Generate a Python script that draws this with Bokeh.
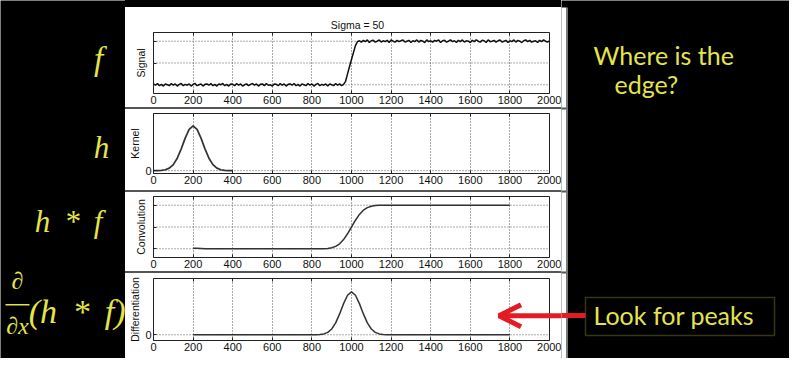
from bokeh.plotting import figure
from bokeh.layouts import row, column
from bokeh.models import (Range1d, FixedTicker, CustomJSTickFormatter, Arrow, OpenHead,
                          BoxAnnotation, Div, Label, LinearAxis, Span)
from bokeh.embed import file_html
from bokeh.resources import INLINE

# ---------------- data ----------------
x_ticks = [0, 200, 400, 600, 800, 1000, 1200, 1400, 1600, 1800, 2000]

signal_x = list(range(0, 2001, 10))
signal_y = [
    0.02, -0.01, 0.03, -0.02, 0.01, -0.03, 0.02, 0.00, -0.02, 0.03,
    -0.01, 0.02, -0.03, 0.01, 0.03, -0.02, 0.01, -0.01, 0.02, -0.03,
    0.01, 0.03, -0.02, 0.00, 0.02, -0.03, 0.01, 0.02, -0.01, 0.03,
    -0.02, 0.01, -0.03, 0.02, 0.00, 0.03, -0.02, 0.01, -0.03, 0.02,
    0.01, -0.02, 0.03, -0.01, 0.02, -0.03, 0.00, 0.02, -0.02, 0.01,
    0.03, -0.01, 0.02, -0.03, 0.01, 0.02, -0.02, 0.03, -0.01, 0.00,
    -0.03, 0.02, 0.01, -0.02, 0.03, -0.01, 0.02, -0.03, 0.01, 0.02,
    -0.01, 0.03, -0.02, 0.01, -0.03, 0.02, 0.00, -0.02, 0.03, -0.01,
    0.02, -0.03, 0.01, 0.03, -0.02, 0.01, -0.01, 0.02, -0.03, 0.02,
    0.00, -0.02, 0.03, -0.01, 0.02, -0.02, 0.01,
    0.08, 0.25, 0.42, 0.58, 0.74, 0.90, 0.99,
    1.01, 0.98, 1.02, 0.99, 1.03, 0.97, 1.01, 1.02, 0.98, 1.00,
    1.03, 0.98, 1.01, 0.99, 1.02, 0.97, 1.03, 1.00, 0.98, 1.02,
    0.99, 1.01, 1.03, 0.98, 1.00, 1.02, 0.97, 1.01, 0.99, 1.03,
    0.98, 1.02, 1.00, 0.97, 1.03, 0.99, 1.01, 0.98, 1.02, 1.00,
    1.03, 0.97, 1.01, 1.02, 0.98, 1.00, 1.03, 0.99, 1.01, 0.97,
    1.02, 0.99, 1.03, 0.98, 1.01, 1.00, 0.97, 1.02, 0.99, 1.03,
    1.00, 0.98, 1.02, 1.01, 0.97, 1.03, 0.99, 1.00, 1.02, 0.98,
    1.01, 1.03, 0.98, 1.00, 1.02, 0.97, 1.01, 0.99, 1.03, 0.98,
    1.02, 1.00, 0.97, 1.01, 1.03, 0.99, 1.02, 0.98, 1.00, 1.01,
    0.97, 1.02, 0.99, 1.03, 1.00, 0.98, 1.01,
]

kernel_x = list(range(0, 401, 20))
kernel_y = [0.0, 0.00001, 0.00005, 0.00016, 0.00045, 0.00108, 0.00222, 0.00389,
            0.00581, 0.00738, 0.00800, 0.00738, 0.00581, 0.00389, 0.00222, 0.00108,
            0.00045, 0.00016, 0.00005, 0.00001, 0.0]

conv_x = [200, 220, 240, 260, 800, 820, 840, 860, 880, 900, 920, 940, 960, 980, 1000,
          1020, 1040, 1060, 1080, 1100, 1120, 1140, 1160, 1180, 1200, 1800]
conv_y = [0.01, 0.01, 0.005, 0.0, 0.0, 0.0002, 0.0007, 0.0026, 0.0082, 0.0228, 0.0548,
          0.1151, 0.2119, 0.3446, 0.5, 0.6554, 0.7881, 0.8849, 0.9452, 0.9772, 0.9918,
          0.9974, 0.9993, 0.9998, 1.0, 1.0]

diff_x = [200, 800, 820, 840, 860, 880, 900, 920, 940, 960, 980, 1000, 1020, 1040,
          1060, 1080, 1100, 1120, 1140, 1160, 1180, 1200, 1800]
diff_y = [0.0, 0.0, 0.00001, 0.00005, 0.00016, 0.00045, 0.00108, 0.00222, 0.00389,
          0.00581, 0.00738, 0.00800, 0.00738, 0.00581, 0.00389, 0.00222, 0.00108,
          0.00045, 0.00016, 0.00005, 0.00001, 0.0, 0.0]

YEL = "#e4e44c"
RED = "#e31b23"
GRID = "#555555"
LINE = "#222222"
SEP = "#555555"
TXT = "Liberation Sans"
MID_W = 436
B_LEFT = 28
B_RIGHT = 12                       # white margin right of the x=2000 edge
FRAME_W = MID_W - B_LEFT - B_RIGHT
X_MAX = x_ticks[-1]
X_END = X_MAX * (FRAME_W + B_RIGHT) / FRAME_W


def style_axis(ax):
    ax.axis_line_color = LINE
    ax.major_tick_in = 3
    ax.major_tick_out = 0
    ax.minor_tick_line_color = None
    ax.major_tick_line_color = LINE
    ax.major_label_text_font = TXT
    ax.major_label_text_font_size = "11px"
    ax.major_label_text_color = "#111111"
    ax.major_label_standoff = 2


def make_sub(h, bt, bb, y0, y1, ylabel, yticks, show_labels, lab_standoff):
    # the frame reaches the panel's right edge; the box of the axes is drawn
    # with bounded axes and a span at x=2000 so that the arrow can cross the margin
    p = figure(width=MID_W, height=h, x_range=Range1d(0, X_END),
               y_range=Range1d(y0, y1), output_backend="svg", toolbar_location=None,
               min_border_left=B_LEFT, min_border_right=0,
               min_border_top=bt, min_border_bottom=bb,
               background_fill_color="white", border_fill_color="white")
    p.outline_line_color = None
    p.xaxis.ticker = FixedTicker(ticks=x_ticks)
    p.yaxis.ticker = FixedTicker(ticks=yticks)
    if not show_labels:
        p.yaxis.formatter = CustomJSTickFormatter(code="return ''")
    style_axis(p.xaxis[0])
    style_axis(p.yaxis[0])
    p.xaxis.bounds = (0, X_MAX)
    p.yaxis.axis_label = ylabel
    p.yaxis.axis_label_text_font = TXT
    p.yaxis.axis_label_text_font_size = "10.5px"
    p.yaxis.axis_label_text_font_style = "normal"
    p.yaxis.axis_label_text_color = "#111111"
    p.yaxis.axis_label_standoff = lab_standoff
    top = LinearAxis(bounds=(0, X_MAX), ticker=FixedTicker(ticks=x_ticks),
                     formatter=CustomJSTickFormatter(code="return ''"))
    style_axis(top)
    top.major_label_standoff = 0
    p.add_layout(top, "above")
    p.add_layout(Span(location=X_MAX, dimension="height", line_color=LINE,
                      line_width=1))
    p.xgrid.ticker = FixedTicker(ticks=x_ticks[1:-1])
    p.xgrid.grid_line_color = GRID
    p.xgrid.grid_line_dash = "1 2"
    p.ygrid.visible = False
    for yt in yticks:
        p.line([x_ticks[0], x_ticks[-1]], [yt, yt], line_color=GRID,
               line_dash="1 2", line_width=1)
    return p


s1 = make_sub(100, 25, 14, -0.2, 1.2, "Signal", [0, 0.5, 1], False, 7)
s1.title.text = "Sigma = 50"
s1.title.align = "center"
s1.title.text_font = TXT
s1.title.text_font_size = "10.5px"
s1.title.text_font_style = "normal"
s1.title.text_color = "#111111"
s1.title.standoff = 3
s1.title.offset = -B_RIGHT / 2
s1.line(signal_x, signal_y, line_color="#111111", line_width=1.5)

s2 = make_sub(81, 4, 17, -0.00051, 0.0102, "Kernel", [0], True, 1)
s2.line(kernel_x, kernel_y, line_color="#333333", line_width=1.7)

s3 = make_sub(79, 4, 14, -0.2, 1.2, "Convolution", [0, 0.5, 1], False, 7)
s3.line(conv_x, conv_y, line_color="#333333", line_width=1.5)

s4 = make_sub(85, 5, 18, -0.00107, 0.0105, "Differentiation", [0], True, 1)
s4.line(diff_x, diff_y, line_color="#333333", line_width=1.5)
ARROW_Y = 0.00356
s4.add_layout(Arrow(end=OpenHead(size=22, line_color=RED, line_width=5),
                    x_start=2200, y_start=ARROW_Y, x_end=1745, y_end=ARROW_Y,
                    line_color=RED, line_width=5))


def sep(h, color):
    return Div(width=MID_W, height=h, margin=(0, 0, 0, 0),
               styles={"background-color": color})


middle = column(sep(7, "black"), s1, sep(2, SEP), s2, sep(2, SEP), s3,
                sep(2, SEP), s4, spacing=0)

# ---------------- left labels ----------------
left = figure(width=125, height=358, x_range=Range1d(0, 125), y_range=Range1d(358, 0),
              output_backend="svg", toolbar_location=None, min_border=0,
              x_axis_location=None, y_axis_location=None,
              background_fill_color="black", border_fill_color="black")
left.outline_line_color = None
left.grid.visible = False


def mlabel(fig, x, y, t, size, align="center", font="Liberation Serif", style="italic",
           color=YEL, baseline="middle"):
    fig.add_layout(Label(x=x, y=y, text=t, text_align=align, text_baseline=baseline,
                         text_color=color, text_font=font, text_font_style=style,
                         text_font_size=size))


mlabel(left, 98, 58, "f", "33px")
mlabel(left, 101, 147, "h", "31px")
mlabel(left, 68, 221, "h \u2009*\u2009 f", "31px")
mlabel(left, 17, 280, "\u2202", "24px")
left.add_layout(BoxAnnotation(left=5, right=29, top=303.5, bottom=305, fill_color=YEL,
                              fill_alpha=1, line_alpha=0))
mlabel(left, 17, 325, "\u2202x", "24px")
mlabel(left, 125, 311, "(h \u2009*\u2009 f)", "34px", align="right")

# ---------------- right side ----------------
RW = 789 - 125 - MID_W
right = figure(width=RW, height=358, x_range=Range1d(0, RW), y_range=Range1d(358, 0),
               output_backend="svg", toolbar_location=None, min_border=0,
               x_axis_location=None, y_axis_location=None,
               background_fill_color="black", border_fill_color="black")
right.outline_line_color = None
right.grid.visible = False

# continuation of the white panel edge
right.add_layout(BoxAnnotation(left=-1, right=5, top=7, bottom=359, fill_color="white",
                               fill_alpha=1, line_alpha=0))
for t, b in ((107, 109), (190, 192), (271, 273)):
    right.add_layout(BoxAnnotation(left=-1, right=5, top=t, bottom=b, fill_color=SEP,
                                   fill_alpha=1, line_alpha=0))
right.add_layout(BoxAnnotation(left=5, right=6.5, top=7, bottom=359, fill_color="#777777",
                               fill_alpha=1, line_alpha=0))

mlabel(right, 32, 54, "Where is the", "25px", align="left", font="Lato", style="normal",
       baseline="alphabetic")
mlabel(right, 53, 83, "edge?", "25px", align="left", font="Lato", style="normal",
       baseline="alphabetic")
right.add_layout(BoxAnnotation(left=24, right=213, top=297, bottom=335, fill_alpha=0,
                               line_color="#b4b43c", line_width=1.5))
mlabel(right, 32, 314, "Look for peaks", "25px", align="left", font="Lato",
       style="normal", baseline="alphabetic")
right.add_layout(BoxAnnotation(left=-1, right=24, top=312.5, bottom=317.5,
                               fill_color=RED, fill_alpha=1, line_alpha=0))

p = row(left, middle, right, spacing=0)

open("out.html", "w").write(file_html(p, INLINE))
